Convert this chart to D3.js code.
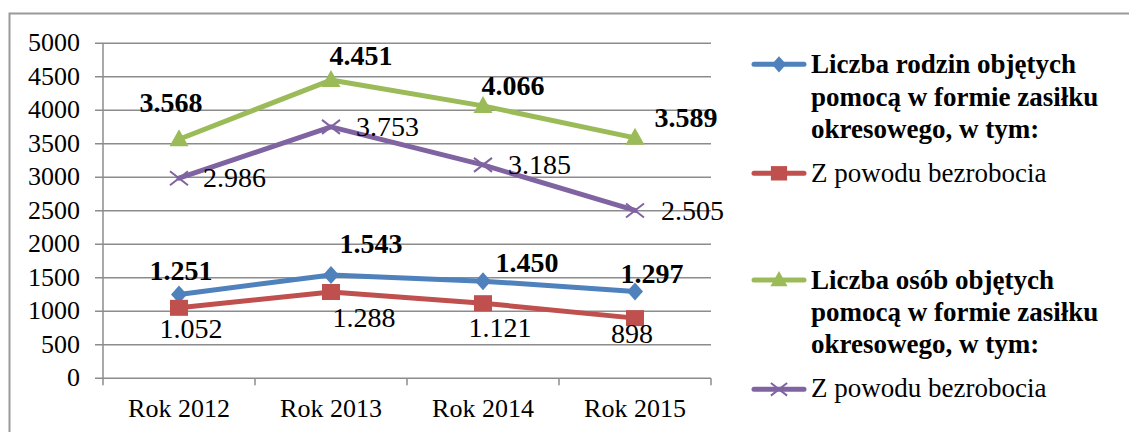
<!DOCTYPE html>
<html><head><meta charset="utf-8">
<script src="https://cdn.jsdelivr.net/npm/d3@7"></script>
<style>html,body{margin:0;padding:0;background:#fff;}svg{display:block;}</style>
</head><body>
<script>
const categories = ["Rok 2012", "Rok 2013", "Rok 2014", "Rok 2015"];
const rodziny = [1251, 1543, 1450, 1297];
const rodzinyBezrobocie = [1052, 1288, 1121, 898];
const osoby = [3568, 4451, 4066, 3589];
const osobyBezrobocie = [2986, 3753, 3185, 2505];
const labelsRodziny = ["1.251", "1.543", "1.450", "1.297"];
const labelsRodzinyBezrobocie = ["1.052", "1.288", "1.121", "898"];
const labelsOsoby = ["3.568", "4.451", "4.066", "3.589"];
const labelsOsobyBezrobocie = ["2.986", "3.753", "3.185", "2.505"];
const yTicks = [0, 500, 1000, 1500, 2000, 2500, 3000, 3500, 4000, 4500, 5000];
const legendNames = [
  ["Liczba rodzin objętych", "pomocą w formie zasiłku", "okresowego, w tym:"],
  ["Z powodu bezrobocia"],
  ["Liczba osób objętych", "pomocą w formie zasiłku", "okresowego, w tym:"],
  ["Z powodu bezrobocia"]
];

const W = 1129, H = 432;
const FONT = "Liberation Serif, Tinos, Times New Roman, DejaVu Serif, serif";
const svg = d3.select("body").append("svg").attr("width", W).attr("height", H)
  .style("font-family", FONT);

// outer frame
svg.append("path").attr("d", "M9.5,432 L9.5,13.5 L1129,13.5")
  .attr("fill", "none").attr("stroke", "#9a9a9a").attr("stroke-width", 2);

const x = d3.scaleBand().domain(categories).range([103, 711]).padding(0);
const y = d3.scaleLinear().domain([0, 5000]).range([378.3, 43.3]);
const cx = c => x(c) + x.bandwidth() / 2;

// gridlines + y ticks
const grid = svg.append("g");
grid.selectAll("line").data(yTicks).join("line")
  .attr("x1", 95).attr("x2", 711)
  .attr("y1", d => y(d)).attr("y2", d => y(d))
  .attr("stroke", "#8c8c8c").attr("stroke-width", 1.5);
svg.append("g").selectAll("text").data(yTicks).join("text")
  .attr("x", 80).attr("y", d => y(d) + 8)
  .attr("text-anchor", "end").style("font-family", FONT).attr("font-size", 26)
  .attr("fill", "#000").text(d => d);

// axes lines
svg.append("line").attr("x1", 103).attr("x2", 103).attr("y1", y(5000)).attr("y2", y(0))
  .attr("stroke", "#8c8c8c").attr("stroke-width", 1.5);
const xTickPos = categories.map(c => x(c)).concat([x(categories[categories.length - 1]) + x.bandwidth()]);
svg.append("g").selectAll("line").data(xTickPos).join("line")
  .attr("x1", d => d).attr("x2", d => d).attr("y1", y(0)).attr("y2", y(0) + 7)
  .attr("stroke", "#8c8c8c").attr("stroke-width", 1.5);
svg.append("g").selectAll("text").data(categories).join("text")
  .attr("x", d => cx(d)).attr("y", 417)
  .attr("text-anchor", "middle").style("font-family", FONT).attr("font-size", 26)
  .attr("fill", "#000").text(d => d);

// marker painters
function marker(g, type, color, px, py, s) {
  s = s || 1;
  if (type === "diamond") {
    g.append("path").attr("d", `M${px},${py - 9 * s} L${px + 8 * s},${py} L${px},${py + 9 * s} L${px - 8 * s},${py} Z`).attr("fill", color);
  } else if (type === "square") {
    g.append("rect").attr("x", px - 9 * s).attr("y", py - 8 * s).attr("width", 18 * s).attr("height", 16 * s).attr("fill", color);
  } else if (type === "triangle") {
    g.append("path").attr("d", `M${px},${py - 10 * s} L${px + 9.5 * s},${py + 7 * s} L${px - 9.5 * s},${py + 7 * s} Z`).attr("fill", color);
  } else if (type === "cross") {
    g.append("path").attr("d", `M${px - 9 * s},${py - 7 * s} L${px + 9 * s},${py + 7 * s} M${px - 9 * s},${py + 7 * s} L${px + 9 * s},${py - 7 * s}`)
      .attr("stroke", color).attr("stroke-width", 2).attr("fill", "none");
  }
}

const series = [
  { values: rodziny, labels: labelsRodziny, color: "#4F81BD", marker: "diamond", bold: true,
    lab: [["middle", 2, -14.5], ["middle", 40, -22], ["middle", 44, -9], ["middle", 17, -8]] },
  { values: rodzinyBezrobocie, labels: labelsRodzinyBezrobocie, color: "#C0504D", marker: "square", bold: false,
    lab: [["middle", 12, 30], ["middle", 33, 35], ["middle", 17, 34], ["middle", -3, 25]] },
  { values: osoby, labels: labelsOsoby, color: "#9BBB59", marker: "triangle", bold: true,
    lab: [["middle", -8, -27], ["middle", 30, -15], ["middle", 30, -11], ["middle", 51, -11]] },
  { values: osobyBezrobocie, labels: labelsOsobyBezrobocie, color: "#8064A2", marker: "cross", bold: false,
    lab: [["start", 24, 9], ["start", 25, 9], ["start", 25, 9], ["start", 26, 10]] }
];

const line = d3.line().x((d, i) => cx(categories[i])).y(d => y(d));
const linesG = svg.append("g");
const marksG = svg.append("g");
const labelsG = svg.append("g");
series.forEach(s => {
  linesG.append("path").datum(s.values).attr("d", line)
    .attr("fill", "none").attr("stroke", s.color).attr("stroke-width", 5)
    .attr("stroke-linejoin", "round").attr("stroke-linecap", "round");
  s.values.forEach((v, i) => marker(marksG, s.marker, s.color, cx(categories[i]), y(v)));
});
series.forEach(s => {
  s.values.forEach((v, i) => {
    const [anchor, dx, dy] = s.lab[i];
    labelsG.append("text")
      .attr("x", cx(categories[i]) + dx).attr("y", y(v) + dy)
      .attr("text-anchor", anchor).style("font-family", FONT).attr("font-size", 28)
      .attr("font-weight", s.bold ? "bold" : "normal").attr("fill", "#000")
      .text(s.labels[i]);
  });
});

// legend
const legendLineY = [64.3, 173.3, 280, 389.3];
const legendBaselines = [[73.3, 106, 138.3], [181.7], [289.3, 321, 353], [396.7]];
const lg = svg.append("g");
series.forEach((s, k) => {
  const ly = legendLineY[k];
  lg.append("line").attr("x1", 754).attr("x2", 804).attr("y1", ly).attr("y2", ly)
    .attr("stroke", s.color).attr("stroke-width", 5).attr("stroke-linecap", "round");
  marker(lg, s.marker, s.color, 779, ly, 0.9);
  legendNames[k].forEach((t, j) => {
    lg.append("text").attr("x", 811).attr("y", legendBaselines[k][j])
      .style("font-family", FONT).attr("font-size", 27)
      .attr("font-weight", s.bold ? "bold" : "normal").attr("fill", "#000").text(t);
  });
});
</script>
</body></html>
